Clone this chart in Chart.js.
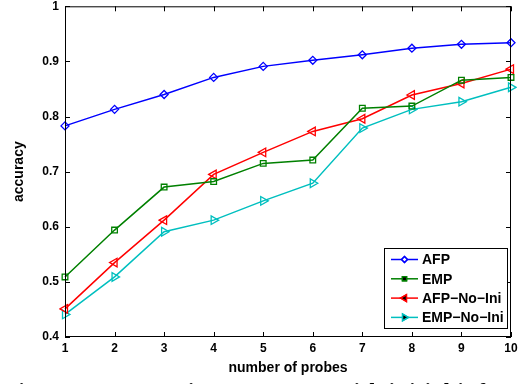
<!DOCTYPE html>
<html>
<head>
<meta charset="utf-8">
<script src="https://cdn.jsdelivr.net/npm/chart.js@4"></script>
<style>
  html, body { margin: 0; padding: 0; background: #fff; overflow: hidden; }
  #wrap { position: relative; width: 524px; height: 384px; overflow: hidden; }
  #caption {
    position: absolute; left: 4px; top: 378px; white-space: nowrap;
    font: bold 22px "Liberation Serif", "Times New Roman", serif; letter-spacing: 1px; color: #000;
  }
</style>
</head>
<body>
<div id="wrap">
  <canvas id="chart" width="524" height="384"></canvas>
  <div id="caption">Figure 10: Scenario I: accuracy with initial information</div>
</div>
<script>
// data
const probes = [1, 2, 3, 4, 5, 6, 7, 8, 9, 10];
const afp = [0.783, 0.813, 0.840, 0.871, 0.891, 0.902, 0.912, 0.924, 0.931, 0.934];
const emp = [0.509, 0.594, 0.672, 0.682, 0.715, 0.721, 0.815, 0.819, 0.866, 0.871];
const afpNoIni = [0.451, 0.535, 0.612, 0.695, 0.735, 0.773, 0.796, 0.839, 0.860, 0.886];
const empNoIni = [0.441, 0.509, 0.591, 0.612, 0.647, 0.679, 0.779, 0.813, 0.827, 0.853];
const yTicks = [0.4, 0.5, 0.6, 0.7, 0.8, 0.9, 1];

const FONT = '"Liberation Sans", Arial, Helvetica, sans-serif';

function series(label, data, color, style, rotation, radius) {
    return {
        label: label,
        data: data,
        borderColor: color,
        backgroundColor: color,
        borderWidth: 1.5,
        pointStyle: style,
        rotation: rotation,
        pointRadius: radius,
        pointBorderWidth: 1.3,
        pointBackgroundColor: 'rgba(0,0,0,0)',
        pointBorderColor: color,
        tension: 0
    };
}

// MATLAB-like box, inward ticks and legend
const matlabAxes = {
    id: 'matlabAxes',
    afterDraw(chart) {
        const ctx = chart.ctx;
        const a = chart.chartArea;
        const xs = chart.scales.x, ys = chart.scales.y;
        ctx.save();
        ctx.strokeStyle = '#000';
        ctx.lineWidth = 1;
        ctx.strokeRect(a.left + 0.5, a.top + 0.5, a.right - a.left - 1, a.bottom - a.top - 1);
        const t = 5;
        ctx.beginPath();
        probes.forEach((p, i) => {
            const x = Math.round(xs.getPixelForValue(i)) + 0.5;
            ctx.moveTo(x, a.bottom); ctx.lineTo(x, a.bottom - t);
            ctx.moveTo(x, a.top); ctx.lineTo(x, a.top + t);
        });
        yTicks.forEach(v => {
            const y = Math.round(ys.getPixelForValue(v)) + 0.5;
            ctx.moveTo(a.left, y); ctx.lineTo(a.left + t, y);
            ctx.moveTo(a.right, y); ctx.lineTo(a.right - t, y);
        });
        ctx.stroke();

        // legend
        const w = 123, h = 80;
        const lx = a.right - 4 - w, ly = a.bottom - 9 - h;
        ctx.fillStyle = '#fff';
        ctx.fillRect(lx, ly, w, h);
        ctx.strokeRect(lx + 0.5, ly + 0.5, w, h);
        ctx.font = 'bold 14px ' + FONT;
        ctx.textBaseline = 'middle';
        chart.data.datasets.forEach((ds, i) => {
            const y = ly + 11.5 + i * 19.3;
            ctx.strokeStyle = ds.borderColor;
            ctx.lineWidth = 1.5;
            ctx.beginPath();
            ctx.moveTo(lx + 7, y); ctx.lineTo(lx + 34, y);
            ctx.stroke();
            ctx.lineWidth = 1.3;
            Chart.helpers.drawPoint(ctx, {
                pointStyle: ds.pointStyle, rotation: ds.rotation,
                radius: ds.pointRadius - 1, borderWidth: 1.3
            }, lx + 20.5, y);
            ctx.stroke();
            ctx.fillStyle = '#000';
            ctx.fillText(ds.label, lx + 38, y + 1);
        });
        ctx.restore();
    }
};

new Chart(document.getElementById('chart'), {
    type: 'line',
    data: {
        labels: probes,
        datasets: [
            series('AFP', afp, '#0000ff', 'rectRot', 0, 4),
            series('EMP', emp, '#008000', 'rect', 0, 4),
            series('AFP\u2212No\u2212Ini', afpNoIni, '#ff0000', 'triangle', -90, 5),
            series('EMP\u2212No\u2212Ini', empNoIni, '#00bfbf', 'triangle', 90, 5)
        ]
    },
    options: {
        responsive: false,
        animation: false,
        layout: { padding: { left: 0, right: 13, top: 6, bottom: 6 } },
        plugins: { legend: { display: false }, tooltip: { enabled: false } },
        scales: {
            x: {
                offset: false,
                grid: { display: false, drawTicks: false },
                border: { display: false },
                ticks: { color: '#000', font: { family: FONT, size: 12, weight: 'bold' }, padding: 4, maxRotation: 0, autoSkip: false },
                title: { display: true, text: 'number of probes', color: '#000', font: { family: FONT, size: 14, weight: 'bold' }, padding: { top: 0, bottom: 1 } },
                afterFit: s => { s.height = 41; s.paddingLeft = 0; s.paddingRight = 0; }
            },
            y: {
                min: 0.4, max: 1,
                afterBuildTicks: s => { s.ticks = yTicks.map(v => ({ value: v })); },
                grid: { display: false, drawTicks: false },
                border: { display: false },
                ticks: { color: '#000', font: { family: FONT, size: 12, weight: 'bold' }, padding: 6, callback: v => String(+v.toFixed(1)) },
                title: { display: true, text: 'accuracy', color: '#000', font: { family: FONT, size: 14, weight: 'bold' }, padding: { top: 11, bottom: 0 } },
                afterFit: s => { s.width = 65; s.paddingTop = 0; s.paddingBottom = 0; }
            }
        }
    },
    plugins: [matlabAxes]
});
</script>
</body>
</html>
